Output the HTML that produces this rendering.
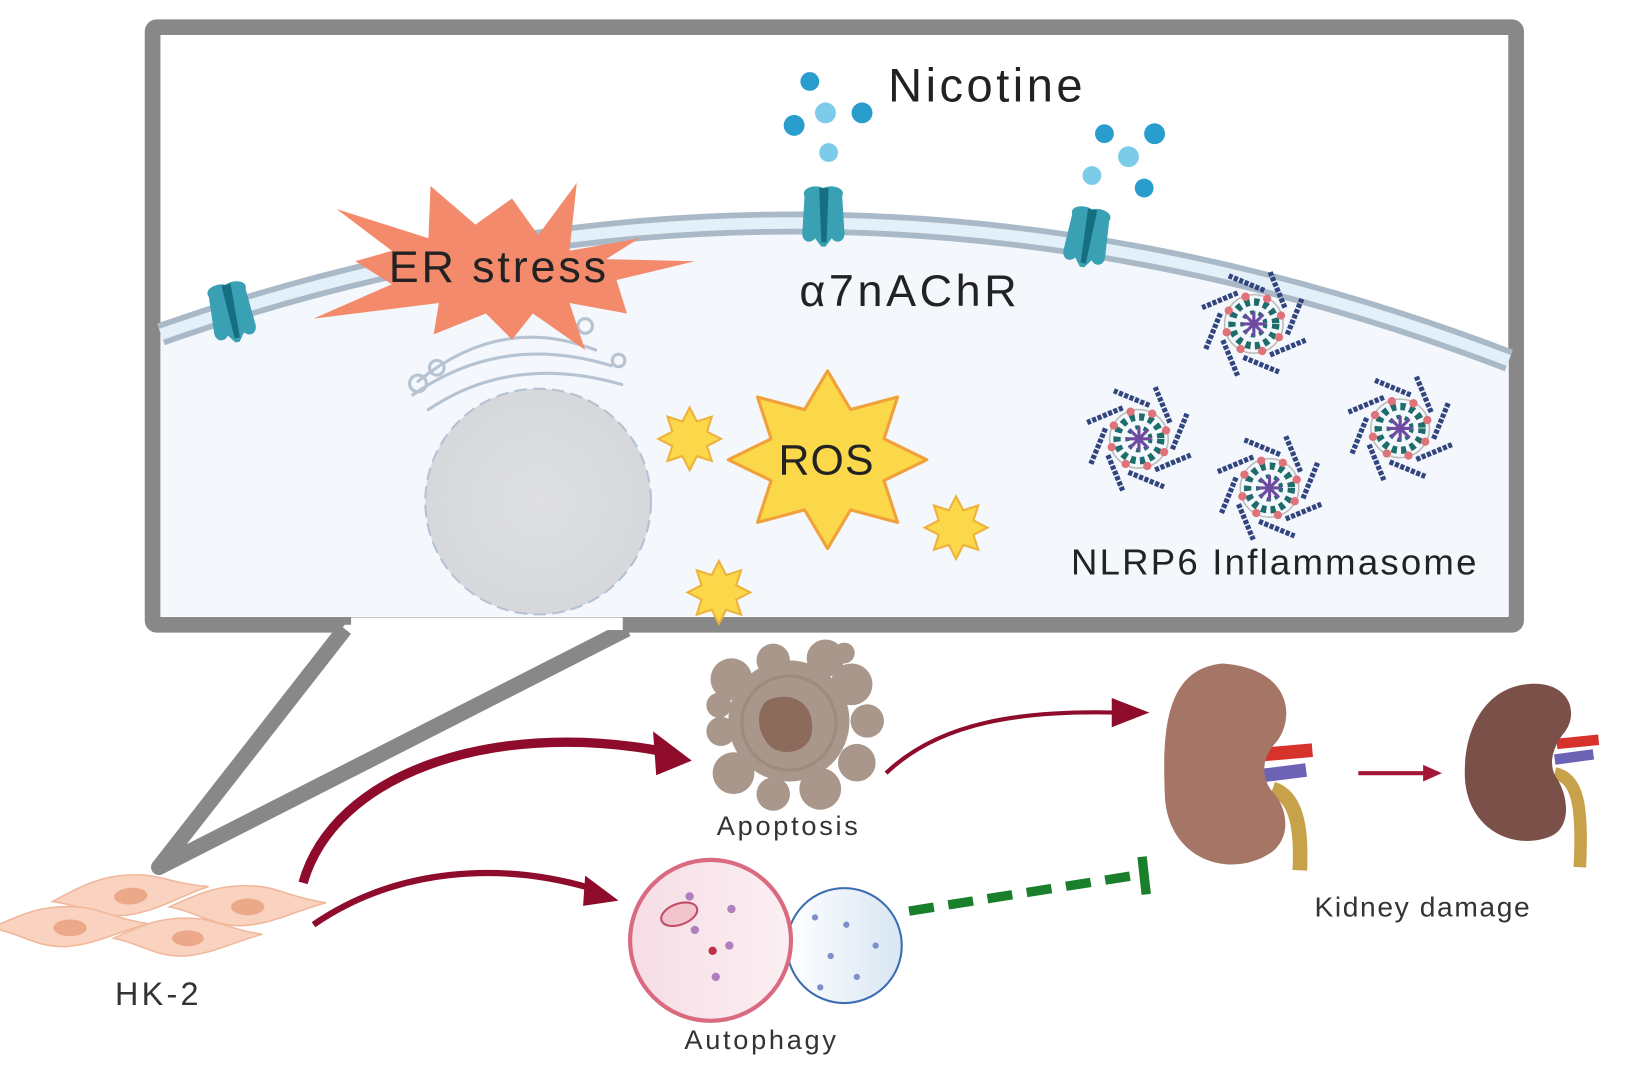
<!DOCTYPE html>
<html><head><meta charset="utf-8"><style>
html,body{margin:0;padding:0;background:#fff;}
svg{display:block;}
text{font-family:"Liberation Sans",sans-serif;}
</style></head><body>
<svg width="1629" height="1072" viewBox="0 0 1559 1026" xmlns="http://www.w3.org/2000/svg">
<defs>
<radialGradient id="nuc" cx="0.5" cy="0.5" r="0.5"><stop offset="0" stop-color="#dedfe1"/><stop offset="1" stop-color="#d6d8dc"/></radialGradient>
<linearGradient id="autoR" x1="0" x2="1"><stop offset="0" stop-color="#f6dde5"/><stop offset="1" stop-color="#fbeff2"/></linearGradient>
<linearGradient id="autoB" x1="0" x2="1"><stop offset="0" stop-color="#ffffff"/><stop offset="1" stop-color="#d8e6f3"/></linearGradient>
<g id="star">
<polygon points="30,0 16.6,6.9 21.2,21.2 6.9,16.6 0,30 -6.9,16.6 -21.2,21.2 -16.6,6.9 -30,0 -16.6,-6.9 -21.2,-21.2 -6.9,-16.6 0,-30 6.9,-16.6 21.2,-21.2 16.6,-6.9" fill="#fbd84a" stroke="#eeb23a" stroke-width="2"/>
</g>
<g id="arm"><line x1="32" y1="10" x2="46" y2="-24" stroke="#33457e" stroke-width="5" stroke-dasharray="4 1.5"/><circle cx="26" cy="-8" r="4" fill="#e0737a"/></g>
<g id="infl">
<circle r="28" fill="none" stroke="#bbb" stroke-width="1.5"/>
<circle r="21" fill="none" stroke="#1e6d6a" stroke-width="7" stroke-dasharray="5 4"/>
<circle r="11" fill="none" stroke="#1e6d6a" stroke-width="4" stroke-dasharray="4 4"/>
<g stroke="#6e4aa0" stroke-width="3"><line x1="-12" y1="0" x2="12" y2="0"/><line x1="0" y1="-12" x2="0" y2="12"/><line x1="-9" y1="-9" x2="9" y2="9"/><line x1="-9" y1="9" x2="9" y2="-9"/></g>
<use href="#arm"/><use href="#arm" transform="rotate(45)"/><use href="#arm" transform="rotate(90)"/><use href="#arm" transform="rotate(135)"/><use href="#arm" transform="rotate(180)"/><use href="#arm" transform="rotate(225)"/><use href="#arm" transform="rotate(270)"/><use href="#arm" transform="rotate(315)"/>
</g>
<g id="rec">
<path d="M-18,-22 C-22,-30 -8,-34 0,-30 C8,-34 22,-30 18,-22 L20,10 C22,22 12,24 8,18 L2,26 L-2,26 L-8,18 C-12,24 -22,22 -20,10 Z" fill="#3aa0b4"/>
<path d="M-4,-30 L-2,22 L3,22 L5,-30 Z" fill="#156f80"/>
</g>
<g id="hk">
<path d="M-70,0 C-40,-14 -20,-22 10,-20 C30,-20 50,-8 80,-4 C50,4 30,16 0,18 C-30,18 -40,6 -70,0 Z" fill="#f9d3bf" stroke="#f1b79b" stroke-width="1.5"/>
<ellipse cx="5" cy="0" rx="16" ry="8" fill="#eba98a"/>
</g>
</defs>

<rect x="146" y="26" width="1305" height="572" fill="#ffffff" stroke="#888" stroke-width="15" rx="4"/>
<path d="M154,320 Q790,95 1444,345 L1444,590 L154,590 Z" fill="#f4f8fc"/>
<path d="M154,320 Q790,95 1444,345" fill="none" stroke="#a9b9c7" stroke-width="22"/>
<path d="M154,320 Q790,95 1444,345" fill="none" stroke="#e3eff9" stroke-width="11"/>
<path d="M330,598 L148,833 L595,598" fill="#fff" stroke="none"/>
<polyline points="330,602 152,830 600,602" fill="none" stroke="#888" stroke-width="15" stroke-linejoin="round"/>
<rect x="336" y="591" width="260" height="12" fill="#fff"/>

<use href="#rec" transform="translate(222,302) rotate(-12)"/>
<use href="#rec" transform="translate(788,210)"/>
<use href="#rec" transform="translate(1040,230) rotate(10)"/>

<g fill="#2a9dcf">
<circle cx="775" cy="78" r="9"/><circle cx="760" cy="120" r="10"/><circle cx="825" cy="108" r="10"/>
<circle cx="1057" cy="128" r="9"/><circle cx="1105" cy="128" r="10"/><circle cx="1095" cy="180" r="9"/>
</g>
<g fill="#7ccbe8">
<circle cx="790" cy="108" r="10"/><circle cx="793" cy="146" r="9"/><circle cx="1080" cy="150" r="10"/><circle cx="1045" cy="168" r="9"/>
</g>
<text x="850" y="97" font-size="45" fill="#222" textLength="186" lengthAdjust="spacing">Nicotine</text>

<g fill="none" stroke="#b6c3d3" stroke-width="3" stroke-linecap="round">
<path d="M400,365 Q480,300 570,335"/><path d="M395,378 Q480,318 585,350"/><path d="M410,392 Q490,338 595,368"/>
<circle cx="400" cy="367" r="8"/><circle cx="560" cy="312" r="7"/><circle cx="418" cy="352" r="7"/><circle cx="592" cy="345" r="6"/>
</g>
<circle cx="515" cy="480" r="108" fill="url(#nuc)" stroke="#b4c2d4" stroke-width="2" stroke-dasharray="12 6"/>

<polygon points="322,200 410,228 412,178 455,215 490,190 515,225 552,175 545,240 612,228 580,248 665,250 590,268 600,300 545,290 560,335 510,300 490,325 465,300 415,320 420,290 300,305 375,272 340,250 375,240" fill="#f38a6c"/>
<text x="372" y="270" font-size="43" fill="#222" textLength="208" lengthAdjust="spacing">ER stress</text>
<text x="765" y="293" font-size="43" fill="#222" textLength="208" lengthAdjust="spacing">α7nAChR</text>

<polygon points="887,440 846,460 859,500 814,488 792,525 770,488 725,500 738,460 697,440 738,420 725,380 770,392 792,355 814,392 859,380 846,420" fill="#fbd84a" stroke="#f0a13a" stroke-width="3" stroke-linejoin="round"/>
<text x="745" y="454" font-size="41" fill="#222" textLength="91" lengthAdjust="spacing">ROS</text>
<use href="#star" transform="translate(660,420)"/>
<use href="#star" transform="translate(915,505)"/>
<use href="#star" transform="translate(688,567)"/>

<use href="#infl" transform="translate(1200,310)"/>
<use href="#infl" transform="translate(1090,420)"/>
<use href="#infl" transform="translate(1215,467)"/>
<use href="#infl" transform="translate(1340,410)"/>
<text x="1025" y="550" font-size="35" fill="#222" textLength="388" lengthAdjust="spacing">NLRP6 Inflammasome</text>

<g fill="#a8978a">
<circle cx="755" cy="690" r="58"/>
<circle cx="700" cy="650" r="20"/><circle cx="740" cy="632" r="16"/><circle cx="790" cy="630" r="18"/><circle cx="815" cy="655" r="20"/>
<circle cx="830" cy="690" r="16"/><circle cx="820" cy="730" r="18"/><circle cx="785" cy="755" r="20"/><circle cx="740" cy="760" r="16"/>
<circle cx="702" cy="740" r="20"/><circle cx="690" cy="700" r="14"/><circle cx="688" cy="675" r="12"/><circle cx="808" cy="625" r="10"/>
</g>
<circle cx="755" cy="692" r="45" fill="none" stroke="#9c8b7e" stroke-width="3"/>
<path d="M735,670 C760,660 780,675 777,700 C775,722 745,725 735,712 C725,700 722,680 735,670 Z" fill="#8c6a5c"/>
<text x="686" y="799" font-size="26" fill="#333" textLength="135" lengthAdjust="spacing">Apoptosis</text>

<circle cx="808" cy="905" r="55" fill="url(#autoB)" stroke="#3b6db0" stroke-width="2"/>
<circle cx="680" cy="900" r="77" fill="url(#autoR)" stroke="#d96a80" stroke-width="4"/>
<g fill="#7e8fc9"><circle cx="810" cy="885" r="3"/><circle cx="780" cy="878" r="3"/><circle cx="838" cy="905" r="3"/><circle cx="795" cy="915" r="3"/><circle cx="820" cy="935" r="3"/><circle cx="785" cy="945" r="3"/></g>
<g fill="#b07fbc"><circle cx="660" cy="858" r="4"/><circle cx="700" cy="870" r="4"/><circle cx="698" cy="905" r="4"/><circle cx="665" cy="890" r="4"/><circle cx="685" cy="935" r="4"/></g>
<circle cx="682" cy="910" r="4" fill="#c0304a"/>
<ellipse cx="650" cy="875" rx="18" ry="10" fill="#f2c4ce" stroke="#c04d65" stroke-width="2" transform="rotate(-20 650 875)"/>
<text x="655" y="1004" font-size="26" fill="#333" textLength="145" lengthAdjust="spacing">Autophagy</text>

<use href="#hk" transform="translate(120,858) rotate(-4)"/>
<use href="#hk" transform="translate(232,868)"/>
<use href="#hk" transform="translate(62,888)"/>
<use href="#hk" transform="translate(175,898) scale(0.95)"/>
<text x="110" y="962" font-size="31" fill="#333" textLength="80" lengthAdjust="spacing">HK-2</text>

<path d="M290,845 C320,740 470,690 628,718" fill="none" stroke="#8e0b2b" stroke-width="9"/>
<polygon points="625,700 662,728 628,742" fill="#8e0b2b"/>
<path d="M300,885 C380,830 480,825 565,850" fill="none" stroke="#8e0b2b" stroke-width="6"/>
<polygon points="560,838 592,862 558,867" fill="#8e0b2b"/>
<path d="M848,740 C900,690 980,680 1068,682" fill="none" stroke="#8e0b2b" stroke-width="4"/>
<polygon points="1064,668 1100,682 1064,696" fill="#8e0b2b"/>
<line x1="1300" y1="740" x2="1365" y2="740" stroke="#a51537" stroke-width="4"/>
<polygon points="1362,732 1380,740 1362,748" fill="#a51537"/>

<path d="M870,872 L1085,838" fill="none" stroke="#1a7f2b" stroke-width="9" stroke-dasharray="24 14"/>
<line x1="1093" y1="820" x2="1097" y2="856" stroke="#1a7f2b" stroke-width="9"/>

<path d="M1210,722 L1256,718" stroke="#d8322c" stroke-width="13"/>
<path d="M1210,742 L1250,737" stroke="#6c63b5" stroke-width="13"/>
<path d="M1218,755 C1240,762 1246,790 1244,833" fill="none" stroke="#c8a24a" stroke-width="14"/>
<path d="M1170,635 C1115,640 1112,700 1115,765 C1120,825 1180,842 1218,815 C1238,798 1230,770 1218,758 C1206,744 1208,725 1220,712 C1240,690 1238,640 1170,635 Z" fill="#a57566"/>
<path d="M1490,712 L1530,708" stroke="#d8322c" stroke-width="10"/>
<path d="M1488,727 L1525,722" stroke="#6c63b5" stroke-width="10"/>
<path d="M1488,740 C1510,745 1515,770 1512,830" fill="none" stroke="#c8a24a" stroke-width="12"/>
<path d="M1460,655 C1420,660 1400,700 1402,745 C1405,795 1450,815 1485,800 C1505,790 1500,760 1490,745 C1480,730 1488,712 1498,700 C1512,680 1500,650 1460,655 Z" fill="#7b5049"/>
<text x="1258" y="877" font-size="27" fill="#333" textLength="206" lengthAdjust="spacing">Kidney damage</text>
</svg>
</body></html>
